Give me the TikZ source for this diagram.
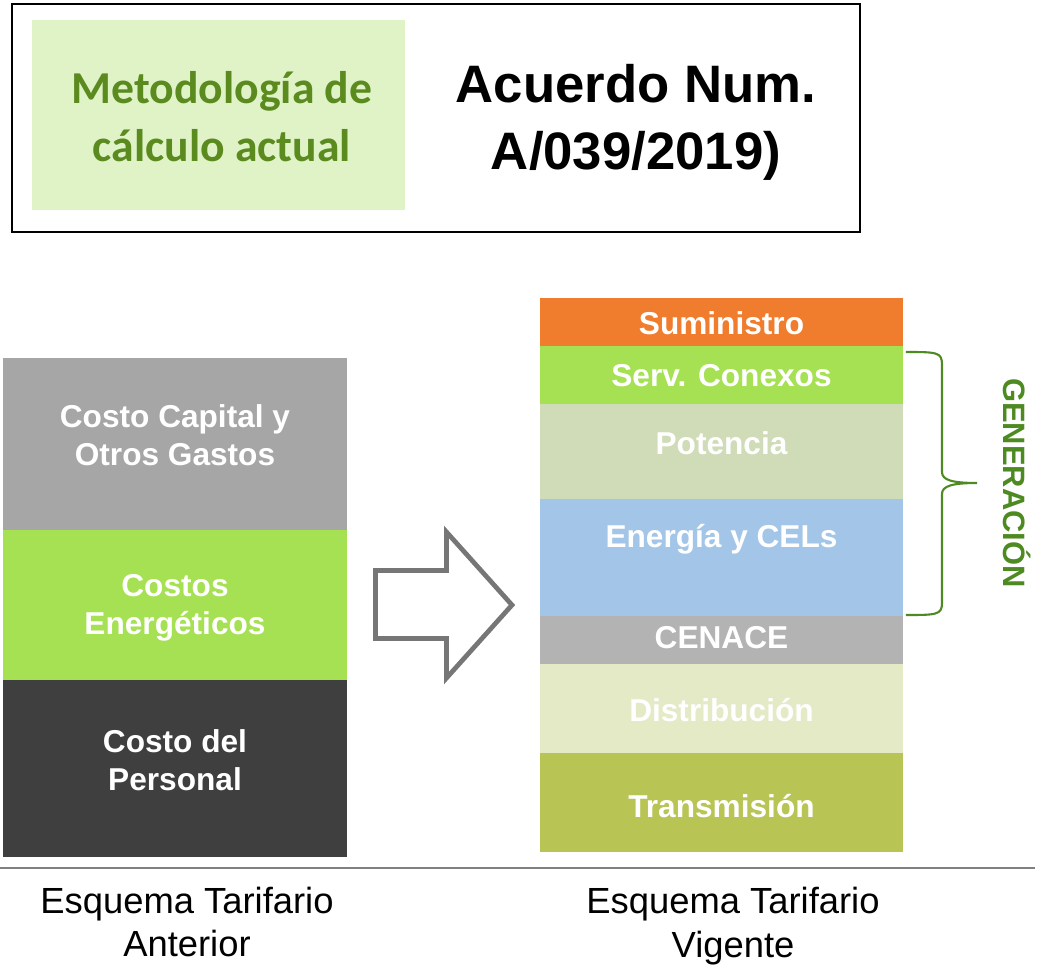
\documentclass[tikz,border=0pt]{standalone}
\usepackage{fontspec}
\setmainfont{Liberation Sans}
\newfontfamily\calibri{Carlito}
\definecolor{verdeclaro}{HTML}{DFF3C7}
\definecolor{verdeosc}{HTML}{5B8A1F}
\definecolor{grisc}{HTML}{A6A6A6}
\definecolor{verdel}{HTML}{A6E053}
\definecolor{grisosc}{HTML}{3F3F3F}
\definecolor{naranja}{HTML}{F07D2E}
\definecolor{potc}{HTML}{D0DBB8}
\definecolor{azulc}{HTML}{A3C6E8}
\definecolor{cenc}{HTML}{B3B3B3}
\definecolor{disc}{HTML}{E3EAC5}
\definecolor{trac}{HTML}{B8C454}
\definecolor{llave}{HTML}{4E8A22}
\definecolor{flecha}{HTML}{767676}

\begin{document}
\begin{tikzpicture}[x=0.02cm,y=-0.02cm]
\useasboundingbox (0,0) rectangle (1041,967);
% encabezado
\node[draw=black,line width=1.1pt,minimum width=16.96cm,minimum height=4.56cm,inner sep=0] (H) at (436,118) {};
\node[fill=verdeclaro,minimum width=7.46cm,minimum height=3.8cm,inner sep=0] (M) at (218.5,115) {};
\node[align=center,text=verdeosc,font=\calibri\bfseries\fontsize{26}{33}\selectfont] (Mt) at (222,117) {Metodología de\\cálculo actual};
\node[align=center,font=\bfseries\fontsize{30}{38}\selectfont] (A) at (636,122) {Acuerdo Num.\\A/039/2019)};

% esquema anterior
\begin{scope}[every node/.style={inner sep=0,outer sep=0,minimum width=6.88cm}]
    \node[fill=grisc,minimum height=3.44cm] (L1) at (175,444) {};
    \node[fill=verdel,minimum height=3.0cm] (L2) at (175,605) {};
    \node[fill=grisosc,minimum height=3.54cm] (L3) at (175,768.5) {};
\end{scope}
\begin{scope}[every node/.style={text=white,align=center,font=\bfseries\fontsize{18}{21.5}\selectfont}]
    \node (T1) at (175,435) {Costo Capital y\\Otros Gastos};
    \node (T2) at (175,608) {Costos\\Energéticos};
    \node (T3) at (175,760) {Costo del\\Personal};
\end{scope}

% flecha
\draw[flecha,line width=2.7pt] (375.5,570.5) -- (446.5,570.5) -- (446.5,532) -- (512,605)
    -- (446.5,678) -- (446.5,638.5) -- (375.5,638.5) -- cycle;

% esquema vigente
\begin{scope}[every node/.style={inner sep=0,outer sep=0,minimum width=7.26cm}]
    \node[fill=naranja,minimum height=0.96cm] (S) at (721.5,322) {};
    \node[fill=verdel,minimum height=1.16cm] (SC) at (721.5,375) {};
    \node[fill=potc,minimum height=1.9cm] (P) at (721.5,451.5) {};
    \node[fill=azulc,minimum height=2.34cm] (E) at (721.5,557.5) {};
    \node[fill=cenc,minimum height=0.96cm] (C) at (721.5,640) {};
    \node[fill=disc,minimum height=1.78cm] (D) at (721.5,708.5) {};
    \node[fill=trac,minimum height=1.98cm] (T) at (721.5,802.5) {};
\end{scope}
\begin{scope}[every node/.style={text=white,font=\bfseries\fontsize{18}{21.5}\selectfont}]
    \node (St) at (721.5,323) {Suministro};
    \node (SCt) at (721.5,376) {Serv. Conexos};
    \node (Pt) at (721.5,443) {Potencia};
    \node (Et) at (721.5,539) {Energía y CELs};
    \node (Ct) at (721.5,638) {CENACE};
    \node (Dt) at (721.5,710) {Distribución};
    \node (Tt) at (721.5,806) {Transmisión};
\end{scope}

% llave
\coordinate (g1) at ([shift={(3,6)}]SC.north east);
\coordinate (g2) at ([shift={(3,-1)}]E.south east);
\draw[llave,line width=1.2pt] (g1) .. controls +(30,0) and +(0,-12) .. ++(36,12) -- (942,472)
    .. controls +(0,8) and +(-25,0) .. (977,483) .. controls +(-25,0) and +(0,-8) .. (942,494)
    -- (942,603) .. controls +(0,12) and +(30,0) .. (g2);
\node[rotate=-90,text=llave,font=\bfseries\fontsize{17.6}{20}\selectfont] (G) at (1017,483) {GENERACIÓN};

% pie
\draw[gray,line width=1.2pt] (0,868) -- (1035,868);
\begin{scope}[every node/.style={align=center,font=\fontsize{20.7}{25}\selectfont}]
    \node (Ea) at (187,922) {Esquema Tarifario\\Anterior};
    \node (Ev) at (733,926) {Esquema Tarifario\\Vigente};
\end{scope}
\end{tikzpicture}
\end{document}
